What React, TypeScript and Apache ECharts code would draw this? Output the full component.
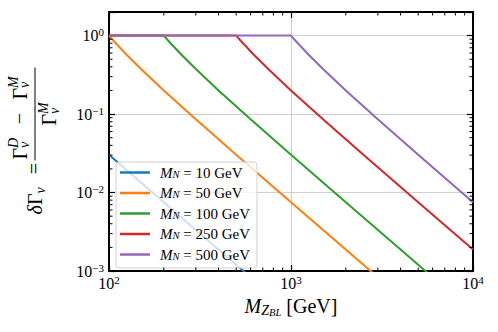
import React, { useEffect, useRef } from 'react';
import * as echarts from 'echarts';

const FONT = "'Liberation Serif', 'DejaVu Serif', serif";

const massLabels = ['10', '50', '100', '250', '500'];
const seriesNames = massLabels.map((m) => `M_N = ${m} GeV`);
const colors = ['#1f77b4', '#ff7f0e', '#2ca02c', '#d62728', '#9467bd'];

// M_ZBL [GeV] and delta Gamma values
const mZ10 = [100, 200, 300, 500, 600, 1000];
const d10 = [0.030303, 0.0075188, 0.003337, 0.0012005, 0.00083356, 0.00030003];
const mZ50 = [100, 102, 105, 110, 125, 150, 200, 300, 500, 1000, 2000, 3000, 10000];
const d50 = [1, 0.948886, 0.879765, 0.78125, 0.571429, 0.375, 0.2, 0.085714, 0.030303, 0.0075188, 0.0018762, 0.00083356, 0.000075002];
const mZ100 = [100, 200, 204, 210, 220, 250, 300, 400, 600, 1000, 2000, 4000, 6000, 10000];
const d100 = [1, 1, 0.948886, 0.879765, 0.78125, 0.571429, 0.375, 0.2, 0.085714, 0.030303, 0.0075188, 0.0018762, 0.00083356, 0.00030003];
const mZ250 = [100, 500, 510, 525, 550, 625, 750, 1000, 1500, 2500, 5000, 10000];
const d250 = [1, 1, 0.948886, 0.879765, 0.78125, 0.571429, 0.375, 0.2, 0.085714, 0.030303, 0.0075188, 0.0018762];
const mZ500 = [100, 1000, 1020, 1050, 1100, 1250, 1500, 2000, 3000, 5000, 10000];
const d500 = [1, 1, 0.948886, 0.879765, 0.78125, 0.571429, 0.375, 0.2, 0.085714, 0.030303, 0.0075188];

const xs = [mZ10, mZ50, mZ100, mZ250, mZ500];
const ys = [d10, d50, d100, d250, d500];

const xMinor = [200, 300, 400, 500, 600, 700, 800, 900, 2000, 3000, 4000, 5000, 6000, 7000, 8000, 9000];
const yMinor = [0.002, 0.003, 0.004, 0.005, 0.006, 0.007, 0.008, 0.009, 0.02, 0.03, 0.04, 0.05, 0.06, 0.07, 0.08, 0.09, 0.2, 0.3, 0.4, 0.5, 0.6, 0.7, 0.8, 0.9];

const X_MIN = 100;
const X_MAX = 10000;
const Y_MIN = 0.001;
const Y_MAX = 2;

function powLabel(v: number) {
  const l = Math.log10(v);
  const e = Math.round(l);
  if (Math.abs(l - e) > 1e-6) return '';
  const es = e < 0 ? '\u2212' + -e : String(e);
  return `{b|10}{s|${es}}`;
}

const tickRich = {
  b: { fontFamily: FONT, fontSize: 16, lineHeight: 18, color: '#000' },
  s: { fontFamily: FONT, fontSize: 11, lineHeight: 10, verticalAlign: 'top', color: '#000' },
};

function txt(text: string, x: number, y: number, size: number, italic: boolean, align = 'left') {
  return {
    type: 'text',
    x,
    y,
    silent: true,
    style: {
      text,
      font: `${italic ? 'italic ' : ''}${size}px ${FONT}`,
      fill: '#000',
      textAlign: align,
      textVerticalAlign: 'middle',
    },
  };
}

function yLabel() {
  const fs = 20;
  const ss = 14;
  const children: any[] = [
    txt('\u03b4', -73, -0.5, fs, true),
    txt('\u0393', -63.5, -0.5, fs, false),
    txt('\u03bd', -52, 5, ss, true),
    txt('=', -27, -1, fs, false, 'center'),
    // numerator
    txt('\u0393', -18, -15.5, fs, false),
    txt('D', -6.5, -22, ss, true),
    txt('\u03bd', -6.5, -10.5, ss, true),
    txt('\u2212', 23, -16, fs, false, 'center'),
    txt('\u0393', 42, -15.5, fs, false),
    txt('M', 53.5, -22, ss, true),
    txt('\u03bd', 53.5, -10.5, ss, true),
    // denominator
    txt('\u0393', 16, 13.5, fs, false),
    txt('M', 27.5, 8, ss, true),
    txt('\u03bd', 27.5, 19, ss, true),
    {
      type: 'line',
      silent: true,
      shape: { x1: -19, y1: 0, x2: 74, y2: 0 },
      style: { stroke: '#000', lineWidth: 1 },
    },
  ];
  return {
    type: 'group',
    x: 35,
    y: 141.5,
    rotation: Math.PI / 2,
    children,
  };
}

export default function App() {
  const ref = useRef<HTMLDivElement>(null);

  useEffect(() => {
    if (!ref.current) return;
    const chart = echarts.init(ref.current, undefined, { renderer: 'svg' });

    const lineSeries = seriesNames.map((name, i) => ({
      name,
      type: 'line',
      xAxisIndex: 0,
      yAxisIndex: 0,
      data: xs[i].map((x, j) => [x, ys[i][j]]),
      symbol: 'none',
      showSymbol: false,
      lineStyle: { color: colors[i], width: 2 },
      itemStyle: { color: colors[i] },
      z: 3,
    }));

    const minorX = {
      type: 'custom',
      xAxisIndex: 0,
      yAxisIndex: 0,
      silent: true,
      z: 6,
      data: xMinor.map((v) => [v, 1]),
      renderItem: (params: any, api: any) => {
        const cs = params.coordSys;
        const px = api.coord([api.value(0), 1])[0];
        const b = cs.y + cs.height;
        return {
          type: 'group',
          children: [
            { type: 'line', shape: { x1: px, y1: b, x2: px, y2: b - 3.5 }, style: { stroke: '#000', lineWidth: 1 } },
            { type: 'line', shape: { x1: px, y1: cs.y, x2: px, y2: cs.y + 3.5 }, style: { stroke: '#000', lineWidth: 1 } },
          ],
        };
      },
    };

    const minorY = {
      type: 'custom',
      xAxisIndex: 0,
      yAxisIndex: 0,
      silent: true,
      z: 6,
      data: yMinor.map((v) => [1000, v]),
      renderItem: (params: any, api: any) => {
        const cs = params.coordSys;
        const py = api.coord([1000, api.value(1)])[1];
        const r = cs.x + cs.width;
        return {
          type: 'group',
          children: [
            { type: 'line', shape: { x1: cs.x, y1: py, x2: cs.x + 3.5, y2: py }, style: { stroke: '#000', lineWidth: 1 } },
            { type: 'line', shape: { x1: r, y1: py, x2: r - 3.5, y2: py }, style: { stroke: '#000', lineWidth: 1 } },
          ],
        };
      },
    };

    const axisLine = { show: true, onZero: false, lineStyle: { color: '#000', width: 2 } };
    const axisTick = { show: true, inside: true, length: 6, lineStyle: { color: '#000', width: 1.2 } };
    const splitLine = { show: true, lineStyle: { color: '#cfcfcf', width: 1 } };

    chart.setOption({
      animation: false,
      backgroundColor: '#ffffff',
      grid: { left: 109, right: 25, top: 12, bottom: 61 },
      xAxis: [
        {
          type: 'log',
          logBase: 10,
          min: X_MIN,
          max: X_MAX,
          position: 'bottom',
          axisLine,
          axisTick,
          splitLine,
          axisLabel: { margin: 3, formatter: powLabel, rich: tickRich },
          name: '{m|M}{z|Z}{bl|BL}{t| [GeV]}',
          nameLocation: 'middle',
          nameGap: 17,
          nameTextStyle: {
            rich: {
              m: { fontFamily: FONT, fontStyle: 'italic', fontSize: 20, lineHeight: 24, color: '#000' },
              z: { fontFamily: FONT, fontStyle: 'italic', fontSize: 14, lineHeight: 12, verticalAlign: 'bottom', color: '#000' },
              bl: { fontFamily: FONT, fontStyle: 'italic', fontSize: 10.5, lineHeight: 2, verticalAlign: 'bottom', color: '#000' },
              t: { fontFamily: FONT, fontSize: 20, lineHeight: 24, color: '#000' },
            },
          },
        },
        {
          type: 'log',
          logBase: 10,
          min: X_MIN,
          max: X_MAX,
          position: 'top',
          axisLine,
          axisTick,
          splitLine: { show: false },
          axisLabel: { show: false },
        },
      ],
      yAxis: [
        {
          type: 'log',
          logBase: 10,
          min: Y_MIN,
          max: Y_MAX,
          position: 'left',
          axisLine,
          axisTick,
          splitLine,
          axisLabel: { margin: 5, formatter: powLabel, rich: tickRich },
        },
        {
          type: 'log',
          logBase: 10,
          min: Y_MIN,
          max: Y_MAX,
          position: 'right',
          axisLine,
          axisTick,
          splitLine: { show: false },
          axisLabel: { show: false },
        },
      ],
      legend: {
        data: seriesNames.map((name) => ({ name, icon: 'rect' })),
        orient: 'vertical',
        left: 116,
        top: 162,
        padding: [3, 7, 6, 4],
        itemWidth: 30,
        itemHeight: 2.5,
        itemGap: 5.5,
        backgroundColor: 'rgba(255,255,255,0.78)',
        borderColor: '#d0d0d0',
        borderWidth: 1,
        borderRadius: 3,
        formatter: (name: string) => {
          const i = seriesNames.indexOf(name);
          return `{m|M}{n|N}{t| = ${massLabels[i]} GeV}`;
        },
        textStyle: {
          padding: [0, 0, 0, 5],
          rich: {
            m: { fontFamily: FONT, fontStyle: 'italic', fontSize: 15, lineHeight: 14, color: '#000' },
            n: { fontFamily: FONT, fontStyle: 'italic', fontSize: 10.5, lineHeight: 6, verticalAlign: 'bottom', color: '#000' },
            t: { fontFamily: FONT, fontSize: 15, lineHeight: 14, color: '#000' },
          },
        },
      },
      graphic: [yLabel()],
      series: [...lineSeries, minorX, minorY],
    });

    return () => chart.dispose();
  }, []);

  return (
    <div
      ref={ref}
      style={{ position: 'fixed', left: 0, top: 0, width: 498, height: 332, background: '#fff' }}
    />
  );
}
